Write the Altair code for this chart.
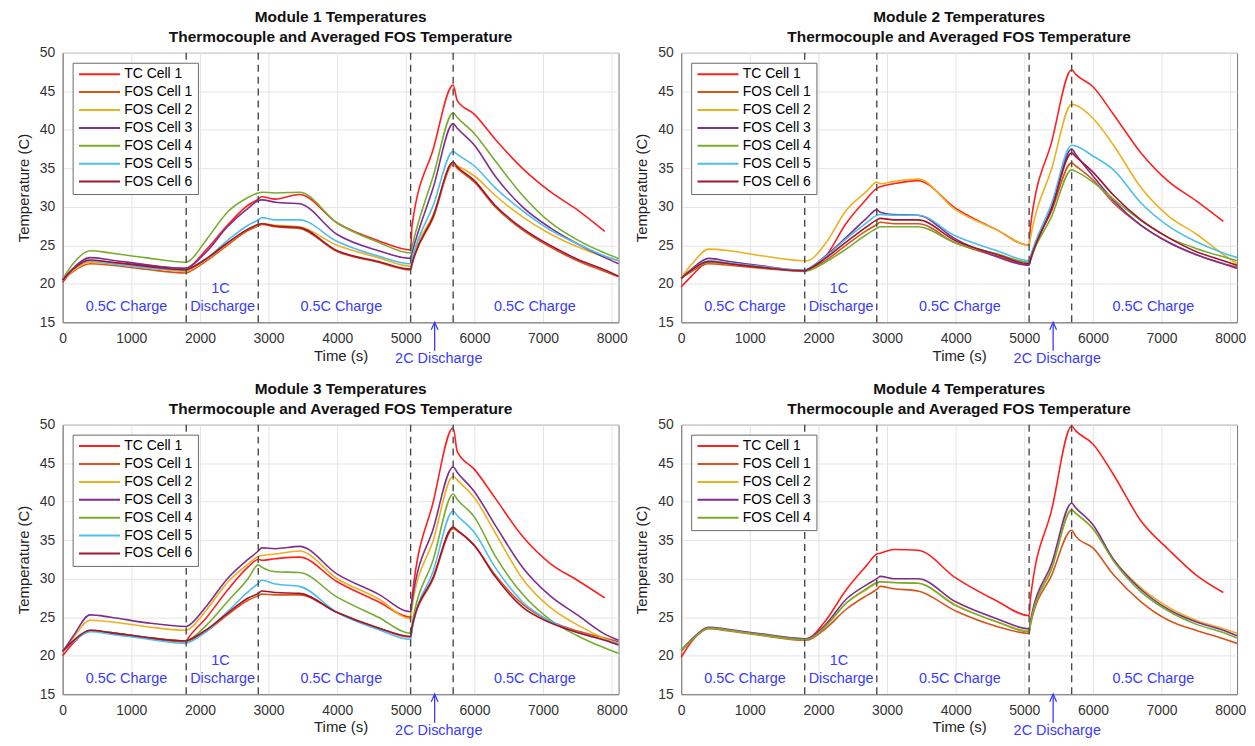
import altair as alt
import pandas as pd

FONT = "Liberation Sans"
BLUE = "#3a3aff"

# time grid (s) of the read-off points
T = [0, 150, 400, 700, 1200, 1800, 1830, 2100, 2400, 2700, 2850, 2900, 3100, 3450,
     4000, 4600, 5070, 5090, 5400, 5690, 5750, 6000, 6300, 6700, 7100, 7500, 7900, 8100]

SERIES_ALL = ["TC Cell 1", "FOS Cell 1", "FOS Cell 2", "FOS Cell 3", "FOS Cell 4", "FOS Cell 5", "FOS Cell 6"]
COLORS_ALL = ["#ff1f1f", "#d95319", "#edb120", "#7e2f8e", "#77ac30", "#4dbeee", "#a2142f"]

# Module 1
M1_TC1 = [20.2, 21.8, 23.0, 22.8, 22.4, 22.0, 22.1, 24.5, 27.6, 30.2, 31.0, 31.3, 31.0, 31.6,
          27.9, 25.6, 24.4, 27.5, 37.5, 45.8, 43.8, 42.0, 38.8, 35.0, 32.0, 29.6, 26.8, None]
M1_FOS1 = [20.5, 21.6, 22.6, 22.4, 21.9, 21.4, 21.5, 23.0, 25.0, 26.9, 27.5, 27.7, 27.4, 27.2,
           24.2, 22.8, 21.8, 22.5, 28.6, 35.5, 35.0, 33.2, 30.0, 27.0, 24.8, 23.0, 21.6, 20.9]
M1_FOS2 = [20.5, 21.7, 22.8, 22.6, 22.1, 21.6, 21.7, 23.2, 25.2, 27.1, 27.6, 27.8, 27.6, 27.4,
           25.0, 23.4, 22.3, 23.0, 29.0, 35.5, 35.3, 34.0, 31.5, 28.7, 26.5, 24.8, 23.5, 23.0]
M1_FOS3 = [20.5, 22.0, 23.4, 23.1, 22.5, 22.0, 22.1, 24.2, 27.4, 29.8, 30.8, 30.9, 30.6, 30.4,
           26.4, 24.3, 23.3, 24.0, 32.5, 40.8, 40.2, 38.0, 34.0, 30.0, 27.3, 25.2, 23.4, 22.6]
M1_FOS4 = [20.6, 22.6, 24.3, 24.0, 23.4, 22.8, 22.9, 25.8, 29.3, 31.2, 31.8, 31.9, 31.8, 31.9,
           27.9, 25.4, 24.0, 24.8, 34.0, 42.2, 41.6, 39.5, 36.0, 31.5, 28.0, 25.7, 24.0, 23.3]
M1_FOS5 = [20.6, 21.9, 23.0, 22.6, 22.1, 21.8, 21.9, 23.3, 25.6, 27.6, 28.3, 28.6, 28.3, 28.3,
           25.5, 23.6, 22.6, 23.3, 30.2, 37.2, 36.8, 35.3, 32.5, 29.5, 27.0, 25.2, 23.6, 23.0]
M1_FOS6 = [20.5, 21.9, 23.1, 22.8, 22.3, 21.8, 21.9, 23.3, 25.3, 27.1, 27.7, 27.8, 27.5, 27.3,
           24.3, 22.9, 21.9, 22.6, 28.8, 35.8, 35.2, 33.4, 30.2, 27.2, 25.0, 23.2, 21.8, 21.0]

# Module 2
M2_TC1 = [19.6, 21.0, 22.8, 22.6, 22.1, 21.7, 21.8, 23.5, 27.8, 31.0, 32.4, 32.6, 33.0, 33.4,
          29.8, 27.0, 25.0, 27.5, 38.5, 47.8, 47.2, 45.6, 42.0, 37.0, 33.3, 30.8, 28.1, None]
M2_FOS1 = [20.7, 21.6, 22.6, 22.4, 22.0, 21.6, 21.7, 23.0, 25.0, 26.9, 27.7, 28.0, 27.8, 27.8,
           25.3, 23.6, 22.5, 23.2, 29.5, 35.7, 35.3, 33.5, 30.5, 27.6, 25.4, 23.8, 22.6, 22.2]
M2_FOS2 = [20.8, 22.5, 24.5, 24.3, 23.6, 23.0, 23.0, 25.2, 29.5, 32.0, 33.2, 33.0, 33.3, 33.6,
           29.6, 27.0, 25.0, 26.0, 35.0, 43.3, 43.2, 41.5, 38.0, 32.5, 28.8, 26.5, 23.8, 22.6]
M2_FOS3 = [20.7, 21.9, 23.3, 22.9, 22.3, 21.7, 21.8, 23.6, 26.0, 28.5, 29.6, 29.3, 29.0, 28.9,
           25.8, 23.5, 22.4, 23.0, 30.0, 37.5, 36.8, 34.0, 30.8, 27.6, 25.4, 23.8, 22.6, 22.0]
M2_FOS4 = [20.7, 21.8, 22.8, 22.6, 22.1, 21.7, 21.7, 22.8, 24.5, 26.4, 27.2, 27.4, 27.4, 27.4,
           25.3, 23.9, 22.8, 23.3, 28.8, 34.8, 34.6, 33.2, 31.0, 28.2, 26.0, 24.6, 23.5, 23.0]
M2_FOS5 = [20.7, 21.8, 23.0, 22.7, 22.2, 21.8, 21.9, 23.5, 25.8, 27.9, 28.9, 29.0, 28.9, 28.9,
           26.2, 24.3, 23.0, 23.6, 30.5, 38.0, 37.9, 36.6, 34.8, 30.5, 27.5, 25.5, 24.0, 23.4]
M2_FOS6 = [20.7, 21.8, 22.9, 22.6, 22.1, 21.7, 21.8, 23.3, 25.4, 27.4, 28.3, 28.5, 28.3, 28.3,
           25.6, 23.8, 22.6, 23.2, 29.8, 37.0, 36.5, 34.5, 31.5, 28.3, 26.0, 24.2, 23.0, 22.4]

# Module 3
M3_TC1 = [20.0, 21.6, 23.2, 23.0, 22.4, 21.9, 22.3, 25.0, 28.5, 31.5, 32.5, 32.4, 32.6, 32.8,
          29.6, 27.0, 25.0, 27.5, 40.0, 49.6, 46.5, 44.2, 40.5, 35.5, 32.0, 29.8, 27.5, None]
M3_FOS1 = [20.6, 21.8, 23.2, 22.9, 22.3, 21.8, 21.9, 23.2, 25.3, 27.2, 27.8, 28.0, 27.9, 27.9,
           25.6, 23.6, 22.4, 23.6, 30.0, 36.5, 36.2, 34.3, 30.5, 26.7, 24.5, 23.2, 22.3, 21.8]
M3_FOS2 = [20.5, 22.3, 24.6, 24.4, 23.8, 23.3, 23.4, 26.0, 29.5, 31.9, 32.9, 33.0, 33.2, 33.6,
           30.0, 27.4, 24.8, 26.3, 35.0, 43.3, 42.8, 40.5, 36.0, 30.0, 26.3, 24.0, 22.2, 21.5]
M3_FOS3 = [20.5, 22.5, 25.3, 25.0, 24.3, 23.8, 23.9, 26.5, 30.0, 32.5, 33.6, 34.0, 33.9, 34.2,
           30.6, 28.0, 25.7, 27.0, 36.5, 44.5, 43.8, 41.3, 37.0, 31.5, 27.8, 25.3, 22.8, 22.0]
M3_FOS4 = [20.5, 21.9, 23.3, 23.0, 22.4, 21.9, 22.0, 24.0, 27.0, 30.0, 31.8, 31.5, 30.9, 30.8,
           27.6, 25.0, 22.9, 24.0, 32.5, 41.0, 40.3, 38.0, 33.0, 28.0, 24.7, 22.6, 21.0, 20.3]
M3_FOS5 = [20.6, 21.8, 23.1, 22.8, 22.2, 21.6, 21.7, 23.2, 25.7, 28.3, 29.4, 29.8, 29.3, 29.0,
           25.6, 23.4, 22.1, 23.3, 31.0, 38.8, 38.2, 36.0, 31.5, 27.0, 24.5, 23.0, 22.0, 21.6]
M3_FOS6 = [20.6, 21.9, 23.3, 23.0, 22.4, 21.9, 22.0, 23.4, 25.5, 27.5, 28.1, 28.4, 28.2, 28.1,
           25.6, 23.6, 22.5, 23.7, 30.2, 36.7, 36.3, 34.3, 30.3, 26.3, 24.3, 23.0, 22.0, 21.4]

# Module 4
M4_TC1 = [19.8, 21.8, 23.6, 23.3, 22.7, 22.2, 22.2, 24.5, 28.5, 31.7, 33.2, 33.3, 33.8, 33.7,
          30.1, 27.1, 25.2, 27.5, 39.0, 49.8, 49.2, 47.5, 43.5, 37.5, 33.8, 30.5, 28.2, None]
M4_FOS1 = [20.6, 22.0, 23.5, 23.2, 22.6, 22.0, 22.0, 23.5, 26.0, 27.8, 28.6, 29.0, 28.7, 28.4,
           25.8, 23.8, 22.9, 24.0, 30.5, 36.3, 35.5, 34.0, 30.5, 27.0, 24.6, 23.3, 22.2, 21.6]
M4_FOS2 = [20.7, 22.1, 23.6, 23.3, 22.7, 22.1, 22.1, 23.8, 26.8, 28.6, 29.4, 29.6, 29.5, 29.4,
           26.6, 24.4, 23.2, 24.3, 31.5, 39.0, 38.5, 36.5, 32.5, 28.8, 26.3, 24.6, 23.5, 22.9]
M4_FOS3 = [20.7, 22.1, 23.7, 23.4, 22.8, 22.2, 22.2, 24.0, 27.3, 29.2, 30.0, 30.3, 30.0, 30.0,
           27.0, 24.8, 23.5, 24.5, 32.0, 39.8, 39.2, 37.0, 32.5, 28.6, 26.0, 24.4, 23.3, 22.6]
M4_FOS4 = [20.7, 22.0, 23.6, 23.3, 22.7, 22.1, 22.1, 23.8, 26.8, 28.7, 29.5, 29.6, 29.5, 29.4,
           26.5, 24.4, 23.1, 24.2, 31.3, 38.9, 38.5, 36.5, 32.3, 28.3, 25.8, 24.1, 23.0, 22.3]

# annotations
PHASE_LABELS = ["0.5C Charge", "1C", "Discharge", "0.5C Charge", "0.5C Charge"]
PHASE_X = [930, 2300, 2330, 4060, 6880]
PHASE_Y = [17.0, 19.3, 17.0, 17.0, 17.0]
BOUNDARIES = [1800, 2850, 5070, 5690]
ARROW_X = [5420]
ARROW_Y = [11.3]
ARROW_TOP = [15.0]
NOTE_TEXT = ["2C Discharge"]
NOTE_X = [5480]
NOTE_Y = [10.2]

XTICKS = [0, 1000, 2000, 3000, 4000, 5000, 6000, 7000, 8000]
YTICKS = [15, 20, 25, 30, 35, 40, 45, 50]


def panel(num, series):
    rows = []
    for name, vals in series:
        for t, v in zip(T, vals):
            if v is not None:
                rows.append({"t": t, "v": v, "s": name})
    df = pd.DataFrame(rows)
    names = [s[0] for s in series]
    cols = [COLORS_ALL[SERIES_ALL.index(n)] for n in names]

    x_enc = alt.X("t:Q", scale=alt.Scale(domain=[0, 8100], nice=False, zero=False),
                  axis=alt.Axis(values=XTICKS, title="Time (s)", format="d", labelPadding=9,
                                titlePadding=3, labelFlush=False, grid=True))
    y_enc = alt.Y("v:Q", scale=alt.Scale(domain=[15, 50], nice=False, zero=False),
                  axis=alt.Axis(values=YTICKS, title="Temperature (C)", labelPadding=8,
                                titlePadding=8, labelFlush=False, grid=True))

    lines = alt.Chart(df).mark_line(strokeWidth=1.6, interpolate="monotone").encode(
        x=x_enc, y=y_enc,
        color=alt.Color("s:N", scale=alt.Scale(domain=names, range=cols),
                        legend=alt.Legend(title=None, orient="top-left", offset=10,
                                          strokeColor="#6a6a6a", fillColor="white",
                                          padding=5, labelFont=FONT, labelFontSize=14,
                                          labelColor="#000", symbolType="stroke",
                                          symbolSize=1700, symbolStrokeWidth=2,
                                          labelOffset=3, rowPadding=3, clipHeight=13,
                                          cornerRadius=0)),
        detail="s:N",
    )

    bdf = pd.DataFrame({"t": BOUNDARIES})
    rules = alt.Chart(bdf).mark_rule(color="#4a4a4a", strokeWidth=1.4,
                                     strokeDash=[7, 5]).encode(x=x_enc)

    pdf = pd.DataFrame({"t": PHASE_X, "v": PHASE_Y, "label": PHASE_LABELS})
    ptext = alt.Chart(pdf).mark_text(font=FONT, fontSize=14.5, color=BLUE,
                                     baseline="middle", align="center").encode(
        x=x_enc, y=y_enc, text="label:N")

    adf = pd.DataFrame({"t": ARROW_X, "v": ARROW_Y, "v2": ARROW_TOP})
    arrow = alt.Chart(adf).mark_rule(color=BLUE, strokeWidth=1.3).encode(
        x=x_enc, y=y_enc, y2=alt.Y2("v2"))
    hdf = pd.DataFrame({"t": ARROW_X, "v": ARROW_TOP})
    head = alt.Chart(hdf).mark_point(shape="M-0.45,1L0,0L0.45,1", size=230,
                                     filled=False, color=BLUE, strokeWidth=1.3,
                                     opacity=1).encode(x=x_enc, y=y_enc)

    ndf = pd.DataFrame({"t": NOTE_X, "v": NOTE_Y, "label": NOTE_TEXT})
    note = alt.Chart(ndf).mark_text(font=FONT, fontSize=14.5, color=BLUE,
                                    baseline="middle", align="center").encode(
        x=x_enc, y=y_enc, text="label:N")

    return alt.layer(lines, rules, ptext, arrow, head, note).properties(
        width=559, height=271,
        title=alt.TitleParams(
            text=[f"Module {num} Temperatures", "Thermocouple and Averaged FOS Temperature"],
            font=FONT, fontSize=15.5, fontWeight="bold", color="#111",
            anchor="middle", lineHeight=20, offset=0),
    )


p1 = panel(1, [("TC Cell 1", M1_TC1), ("FOS Cell 1", M1_FOS1), ("FOS Cell 2", M1_FOS2),
               ("FOS Cell 3", M1_FOS3), ("FOS Cell 4", M1_FOS4), ("FOS Cell 5", M1_FOS5),
               ("FOS Cell 6", M1_FOS6)])
p2 = panel(2, [("TC Cell 1", M2_TC1), ("FOS Cell 1", M2_FOS1), ("FOS Cell 2", M2_FOS2),
               ("FOS Cell 3", M2_FOS3), ("FOS Cell 4", M2_FOS4), ("FOS Cell 5", M2_FOS5),
               ("FOS Cell 6", M2_FOS6)])
p3 = panel(3, [("TC Cell 1", M3_TC1), ("FOS Cell 1", M3_FOS1), ("FOS Cell 2", M3_FOS2),
               ("FOS Cell 3", M3_FOS3), ("FOS Cell 4", M3_FOS4), ("FOS Cell 5", M3_FOS5),
               ("FOS Cell 6", M3_FOS6)])
p4 = panel(4, [("TC Cell 1", M4_TC1), ("FOS Cell 1", M4_FOS1), ("FOS Cell 2", M4_FOS2),
               ("FOS Cell 3", M4_FOS3), ("FOS Cell 4", M4_FOS4)])

chart = alt.ConcatChart(
    concat=[p1, p2, p3, p4], columns=2,
    spacing={"row": 103, "column": 63}, bounds="flush",
).resolve_scale(color="independent").properties(
    padding={"left": 7, "top": 0, "right": 0, "bottom": 0},
    background="white",
).configure_view(stroke="#7a7a7a", strokeWidth=1).configure_axis(
    labelFont=FONT, labelFontSize=14, labelColor="#333",
    titleFont=FONT, titleFontSize=15, titleFontWeight="normal", titleColor="#222",
    gridColor="#e4e4e4", gridWidth=1, domainColor="#7a7a7a", ticks=False,
)

chart.save("out.html", embed_options={"renderer": "svg", "actions": False})
